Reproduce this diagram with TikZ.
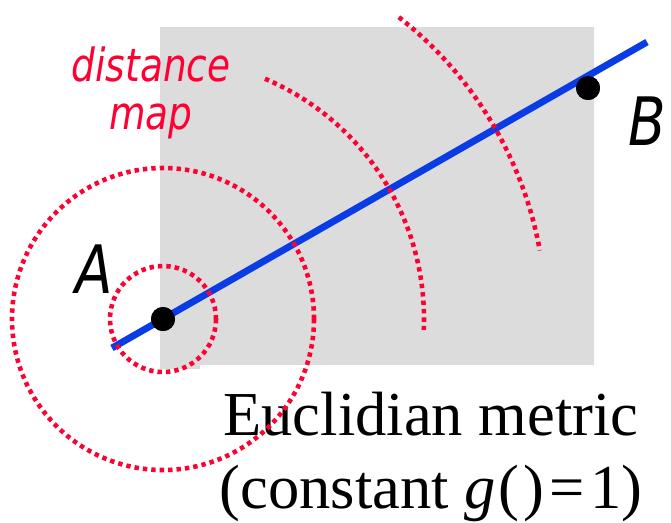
\documentclass[tikz,border=0pt]{standalone}
\usepackage{fontspec}
\setmainfont{Liberation Serif}
\newfontfamily\labelfont[FakeStretch=0.82]{DejaVu Sans}
\usetikzlibrary{positioning}
\definecolor{distred}{RGB}{255,0,51}
\definecolor{geod}{RGB}{10,60,230}
\definecolor{plane}{RGB}{220,220,220}

\begin{document}
\begin{tikzpicture}[x=0.02cm,y=-0.02cm,
  pt/.style={circle,fill=black,minimum size=0.48cm,inner sep=0pt},
  ptlabel/.style={font=\labelfont\itshape\fontsize{38}{40}\selectfont,inner sep=0pt,anchor=base},
  front/.style={distred,line width=2.6pt,dash pattern=on 2.5pt off 2.3pt},
  geodesic/.style={geod,line width=3.9pt},
  note/.style={text=distred,font=\labelfont\itshape\fontsize{26}{27.3}\selectfont,
               align=center,inner sep=0pt},
  caption/.style={font=\fontsize{35.6}{41.4}\selectfont,align=center,inner sep=0pt}
]
\useasboundingbox (0,0) rectangle (671,522);
% domain
\fill[plane] (160,27) -- (594,27) -- (594,365) -- (200,365) -- (200,369) -- (160,369) -- cycle;
\node[caption] (metric) at (431,457)
  {Euclidian metric\\(constant \textit{g}\kern1.5pt(\kern2.5pt)\kern3pt=\kern3pt1)};

% end points and the straight path between them
\node[pt] (A) at (163,319) {};
\node[pt] (B) at (588,88)  {};
\coordinate (gs) at (112,348);
\coordinate (ge) at (647,42);
\draw[geodesic] (gs) -- (ge);

% level sets of the distance map around A
\draw[front] (A.center) circle[radius=53];
\draw[front] (A.center) circle[radius=151];
\draw[front] (A.center) ++(-67:261) arc[start angle=-67,end angle=2.4,radius=261];
\draw[front] (A.center) ++(-52:383) arc[start angle=-52,end angle=-10.3,radius=383];
\node[pt] at (A) {};
\node[pt] at (B) {};

% labels
\node[ptlabel] (labA) at (94,293)  {A};
\node[ptlabel] (labB) at (647,145) {B};
\node[note]    (dmap) at (151,93)  {distance\\map};
\end{tikzpicture}
\end{document}
